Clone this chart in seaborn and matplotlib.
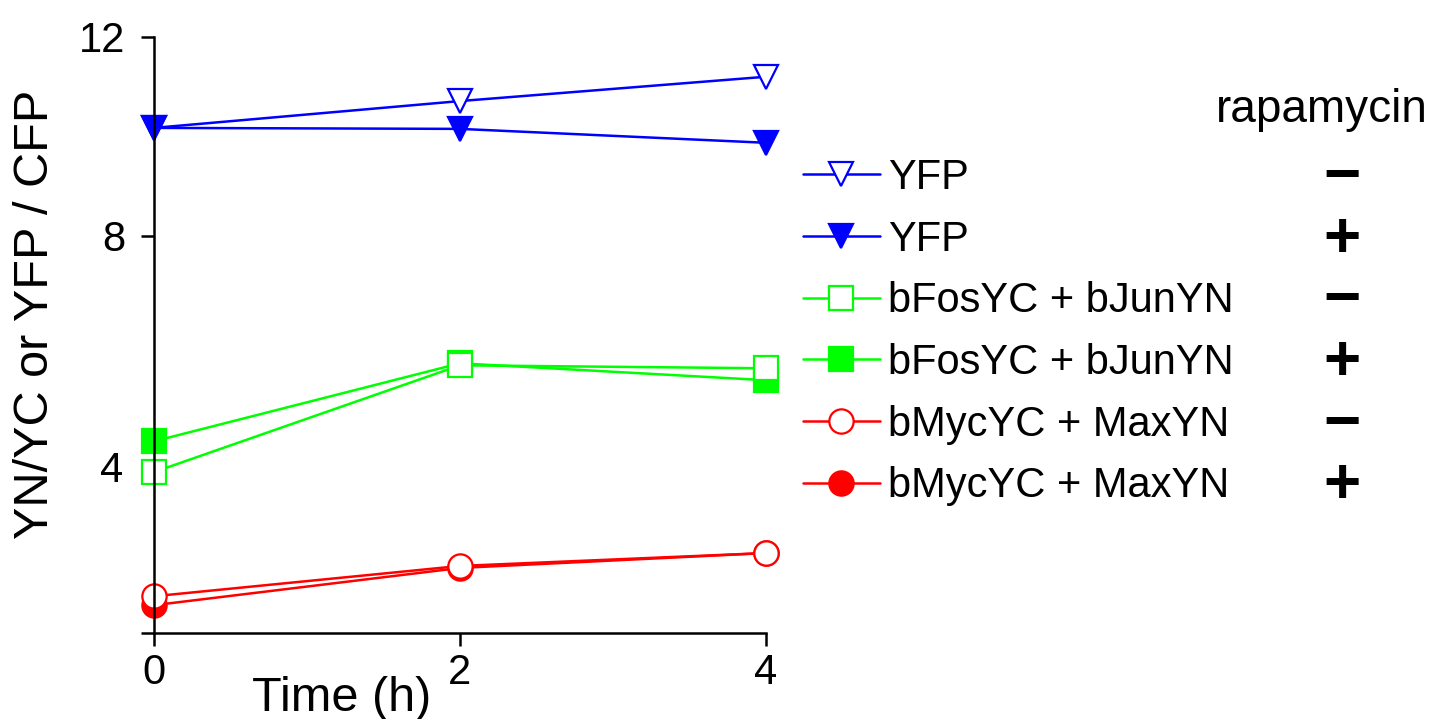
import numpy as np
import pandas as pd
import seaborn as sns
import matplotlib
matplotlib.use("Agg")
import matplotlib.pyplot as plt
from matplotlib.transforms import blended_transform_factory, ScaledTranslation

# data
time_h = [0, 2, 4]
yfp_minus = [10.17, 10.71, 11.20]
yfp_plus = [10.17, 10.15, 9.87]
fos_minus = [3.24, 5.39, 5.33]
fos_plus = [3.86, 5.43, 5.09]
myc_minus = [0.74, 1.35, 1.61]
myc_plus = [0.56, 1.31, 1.61]

labels = ["YFP", "YFP", "bFosYC + bJunYN", "bFosYC + bJunYN", "bMycYC + MaxYN", "bMycYC + MaxYN"]
signs = ["−", "+", "−", "+", "−", "+"]

sns.set_style("ticks")
plt.rcParams["font.family"] = ["Liberation Sans", "DejaVu Sans"]
plt.rcParams["text.color"] = "black"
plt.rcParams["axes.labelcolor"] = "black"

fig = plt.figure(figsize=(14.43, 7.19), dpi=100)
ax = fig.add_axes([154 / 1443, 1 - 633 / 719, 612 / 1443, 596 / 719])

# draw order chosen so the visible marker on top matches the reference
series = [
    (0, yfp_minus, "#0000ff", "v", "white"),
    (1, yfp_plus, "#0000ff", "v", "#0000ff"),
    (3, fos_plus, "#00ff00", "s", "#00ff00"),
    (2, fos_minus, "#00ff00", "s", "white"),
    (5, myc_plus, "#ff0000", "o", "#ff0000"),
    (4, myc_minus, "#ff0000", "o", "white"),
]
handles = {}
for idx, vals, col, mk, face in series:
    df = pd.DataFrame({"t": time_h, "v": vals})
    sns.lineplot(data=df, x="t", y="v", ax=ax, color=col, marker=mk, markersize=17.5,
                 markerfacecolor=face, markeredgecolor=col, markeredgewidth=1.6,
                 linewidth=1.8, clip_on=False, label=labels[idx])
    handles[idx] = ax.lines[-1]

ax.set_xlim(0, 4)
ax.set_ylim(0, 12)
ax.set_xticks([0, 2, 4])
ax.set_xticklabels(["0", "2", "4"])
ax.set_yticks([0, 4, 8, 12])
ax.set_yticklabels(["", "", "8", "12"])
for s in ["top", "right"]:
    ax.spines[s].set_visible(False)
for s in ["left", "bottom"]:
    ax.spines[s].set_linewidth(1.8)
    ax.spines[s].set_color("black")
ax.tick_params(axis="both", direction="out", length=9.5, width=1.8, colors="black", labelsize=30)
ax.tick_params(axis="y", pad=11)
ax.tick_params(axis="x", pad=5)

# the "4" label sits lower than its tick in the reference
tr = blended_transform_factory(ax.transAxes, ax.transData) + ScaledTranslation(0, -0.37, fig.dpi_scale_trans)
ax.text(-0.05, 4, "4", transform=tr, ha="right", va="center", fontsize=30, color="black")

ax.set_xlabel("Time (h)", fontsize=35)
ax.xaxis.set_label_coords(0.307, -0.11)
ax.xaxis.label.set_va("center")
ax.set_ylabel("YN/YC or YFP / CFP", fontsize=35)
ax.yaxis.set_label_coords(-0.194, 0.534)
ax.yaxis.label.set_va("center")

leg = ax.legend([handles[i] for i in range(6)], labels, loc="upper left",
                bbox_to_anchor=(803 / 1443, 1 - 158 / 719), bbox_transform=fig.transFigure,
                frameon=False, fontsize=30, handlelength=1.84, handletextpad=0.2,
                labelspacing=0.52, borderpad=0, borderaxespad=0)
for t in leg.get_texts():
    t.set_color("black")

fig.text(1322 / 1443, 1 - 110 / 719, "rapamycin", fontsize=33, ha="center", va="center")

fig.canvas.draw()
inv = fig.transFigure.inverted()
for t, sg in zip(leg.get_texts(), signs):
    bb = t.get_window_extent()
    yc = inv.transform((0, (bb.y0 + bb.y1) / 2))[1]
    fig.text(1342 / 1443, yc, sg, fontsize=46, fontweight="bold", ha="center", va="center")

fig.savefig("out.png", dpi=100)
